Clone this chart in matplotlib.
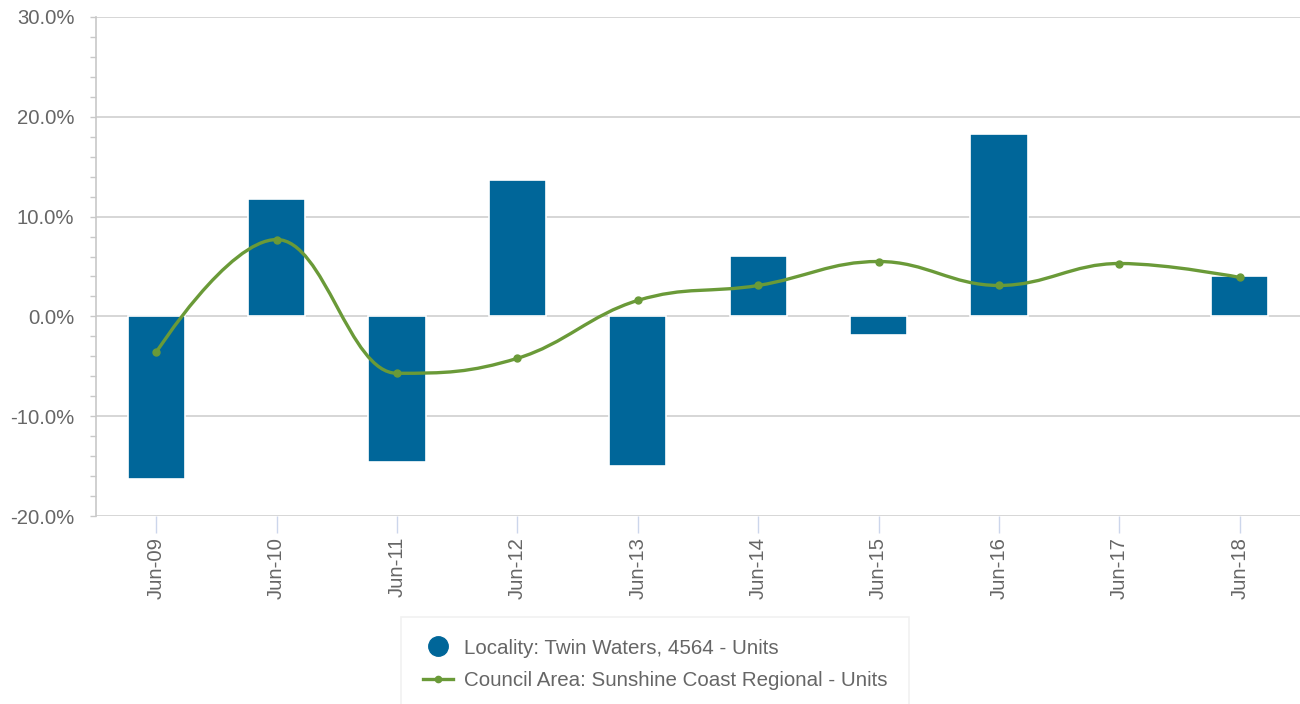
import numpy as np
import matplotlib.pyplot as plt
from matplotlib.path import Path
from matplotlib.patches import PathPatch
from matplotlib.lines import Line2D
from matplotlib.ticker import MultipleLocator, FuncFormatter

plt.rcParams['font.family'] = ['Liberation Sans', 'DejaVu Sans']

categories = ["Jun-09", "Jun-10", "Jun-11", "Jun-12", "Jun-13",
              "Jun-14", "Jun-15", "Jun-16", "Jun-17", "Jun-18"]
locality = [-16.3, 11.8, -14.6, 13.7, -15.0, 6.1, -1.9, 18.3, np.nan, 4.0]
council = [-3.6, 7.7, -5.7, -4.2, 1.6, 3.1, 5.5, 3.1, 5.3, 3.9]

BAR_COLOR = "#006699"
LINE_COLOR = "#6a9a38"
TEXT_COLOR = "#666666"


def spline_path(xs, ys, smoothing=1.5):
    # highcharts-style spline control points
    denom = smoothing + 1
    n = len(xs)
    lc = [(xs[i], ys[i]) for i in range(n)]
    rc = [(xs[i], ys[i]) for i in range(n)]
    for i in range(1, n - 1):
        px, py = xs[i], ys[i]
        lx, ly = xs[i - 1], ys[i - 1]
        nx, ny = xs[i + 1], ys[i + 1]
        lcx = (smoothing * px + lx) / denom
        lcy = (smoothing * py + ly) / denom
        rcx = (smoothing * px + nx) / denom
        rcy = (smoothing * py + ny) / denom
        corr = (rcy - lcy) * (rcx - px) / (rcx - lcx) + py - rcy
        lcy += corr
        rcy += corr
        if lcy > ly and lcy > py:
            lcy = max(ly, py)
            rcy = 2 * py - lcy
        elif lcy < ly and lcy < py:
            lcy = min(ly, py)
            rcy = 2 * py - lcy
        if rcy > ny and rcy > py:
            rcy = max(ny, py)
            lcy = 2 * py - rcy
        elif rcy < ny and rcy < py:
            rcy = min(ny, py)
            lcy = 2 * py - rcy
        lc[i] = (lcx, lcy)
        rc[i] = (rcx, rcy)
    verts = [(xs[0], ys[0])]
    codes = [Path.MOVETO]
    for i in range(1, n):
        verts += [rc[i - 1], lc[i], (xs[i], ys[i])]
        codes += [Path.CURVE4] * 3
    return Path(verts, codes)


fig = plt.figure(figsize=(13, 7.04), dpi=100)
ax = fig.add_axes([96 / 1300, 188 / 704, 1204 / 1300, 499 / 704])

x = np.arange(len(categories))
ax.bar(x, locality, width=0.475, color=BAR_COLOR, edgecolor="white",
       linewidth=1.2, zorder=3)

ax.add_patch(PathPatch(spline_path(list(x), council), facecolor="none",
                       edgecolor=LINE_COLOR, linewidth=2.4, zorder=4,
                       capstyle="round", joinstyle="round"))
ax.plot(x, council, linestyle="none", marker="o", markersize=5,
        color=LINE_COLOR, zorder=5)

ax.set_xlim(-0.5, len(categories) - 0.5)
ax.set_ylim(-20, 30)
ax.yaxis.set_major_locator(MultipleLocator(10))
ax.yaxis.set_minor_locator(MultipleLocator(2))
ax.yaxis.set_major_formatter(FuncFormatter(lambda v, p: f"{v:.1f}%"))
ax.grid(axis="y", color="#d0d0d0", linewidth=1.2, zorder=0)
ax.set_axisbelow(True)

for s in ["top", "right", "bottom"]:
    ax.spines[s].set_visible(False)
ax.spines["left"].set_color("#c8c8c8")
ax.spines["left"].set_linewidth(1.2)

ax.tick_params(axis="y", which="both", direction="out", color="#c8c8c8",
               length=4.5, width=1, labelsize=14.6, labelcolor=TEXT_COLOR, pad=11)
ax.set_xticks(x)
ax.set_xticklabels(categories, rotation=90)
ax.tick_params(axis="x", direction="out", color="#ccd6eb", length=12, width=1,
               labelsize=14.6, labelcolor=TEXT_COLOR, pad=3)

handles = [
    Line2D([], [], linestyle="none", marker="o", markersize=14,
           color=BAR_COLOR),
    Line2D([], [], color=LINE_COLOR, linewidth=2.4, marker="o", markersize=4.5),
]
labels = ["Locality: Twin Waters, 4564 - Units",
          "Council Area: Sunshine Coast Regional - Units"]
leg = fig.legend(handles, labels, loc="upper center",
                 bbox_to_anchor=(655 / 1300, 1 - 617 / 704),
                 frameon=True, fancybox=False, fontsize=14.8,
                 labelcolor=TEXT_COLOR, handlelength=1.45, handletextpad=0.55,
                 labelspacing=0.67, borderpad=1.05, borderaxespad=0)
leg.get_frame().set_edgecolor("#eeeeee")
leg.get_frame().set_linewidth(1.2)

fig.savefig("out.png", dpi=100)
